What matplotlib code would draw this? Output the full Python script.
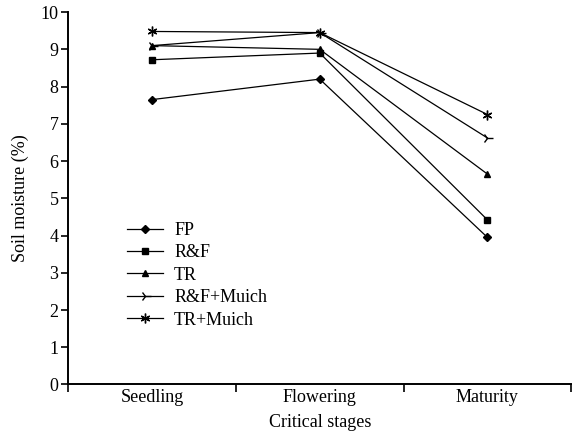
import numpy as np
import matplotlib.pyplot as plt

plt.rcParams['font.family'] = 'Liberation Serif'

stages = ['Seedling', 'Flowering', 'Maturity']
fp = [7.65, 8.2, 3.95]
rf = [8.72, 8.9, 4.42]
tr = [9.1, 9.0, 5.65]
rf_mulch = [9.1, 9.45, 6.62]
tr_mulch = [9.48, 9.45, 7.25]

series = [('FP', fp, 'D', 4), ('R&F', rf, 's', 5), ('TR', tr, '^', 5),
          ('R&F+Muich', rf_mulch, '4', 8), ('TR+Muich', tr_mulch, (6, 2, 0), 7)]

fig = plt.figure(figsize=(5.73, 4.32), dpi=100)
ax = fig.add_axes([0.119, 0.11, 0.878, 0.862])
x = np.arange(len(stages))
for name, vals, m, ms in series:
    ax.plot(x, vals, color='black', lw=0.9, marker=m, ms=ms, mew=1.0, label=name)

ax.set_xlim(-0.5, 2.5)
ax.set_ylim(0, 10)
ax.set_yticks(range(0, 11))
ax.set_xticks([-0.5, 0.5, 1.5, 2.5])
ax.set_xticklabels([])
ax.set_xticks(x, minor=True)
ax.set_xticklabels(stages, minor=True)
ax.tick_params(axis='x', which='minor', length=0, labelsize=13, pad=3)
ax.tick_params(axis='x', which='major', length=6, width=1.2, direction='out')
ax.tick_params(axis='y', length=5, width=1.2, labelsize=13, pad=2)
for s in ['top', 'right']:
    ax.spines[s].set_visible(False)
for s in ['left', 'bottom']:
    ax.spines[s].set_linewidth(1.4)
ax.set_ylabel('Soil moisture (%)', fontsize=13, labelpad=8)
ax.set_xlabel('Critical stages', fontsize=13)
ax.xaxis.set_label_coords(0.5, -0.078)
ax.legend(loc='upper left', bbox_to_anchor=(0.085, 0.48), frameon=False,
          fontsize=13, handlelength=2.0, labelspacing=0.3, handletextpad=0.6)

fig.savefig('out.png', dpi=100)
